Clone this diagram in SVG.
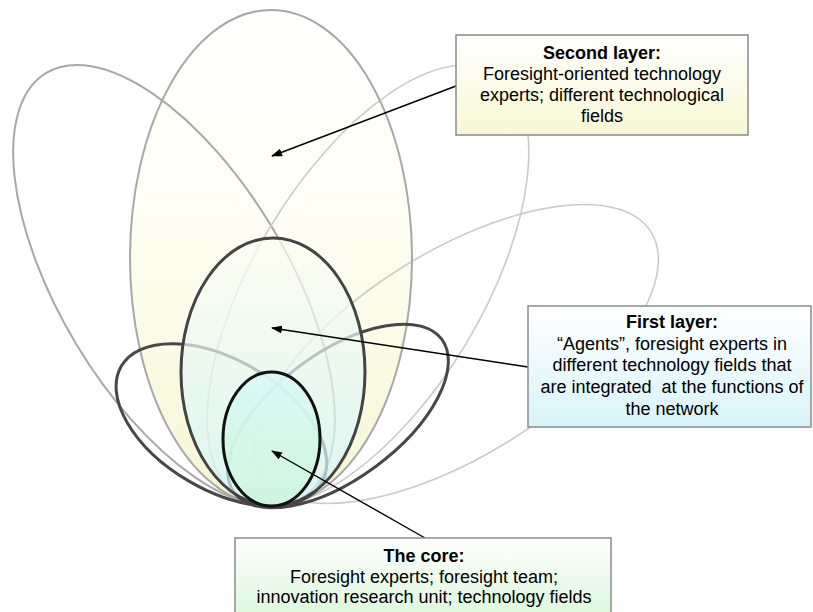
<svg xmlns="http://www.w3.org/2000/svg" width="813" height="612" viewBox="0 0 813 612">
  <defs>
    <linearGradient id="gSecond" x1="0" y1="0" x2="0" y2="1">
      <stop offset="0" stop-color="#ffffff"/>
      <stop offset="0.4" stop-color="#fefef4"/>
      <stop offset="1" stop-color="#f6f6d4"/>
    </linearGradient>
    <linearGradient id="gFirst" x1="0" y1="0" x2="0" y2="1">
      <stop offset="0" stop-color="#fdfdf0"/>
      <stop offset="0.5" stop-color="#e6f9f5"/>
      <stop offset="1" stop-color="#d0f5fb"/>
    </linearGradient>
    <linearGradient id="gCore" x1="0" y1="0" x2="0" y2="1">
      <stop offset="0" stop-color="#d8f8f8"/>
      <stop offset="1" stop-color="#cdf6da"/>
    </linearGradient>
    <linearGradient id="bSecond" x1="0" y1="0" x2="0" y2="1">
      <stop offset="0" stop-color="#ffffff"/>
      <stop offset="1" stop-color="#f8f8d4"/>
    </linearGradient>
    <linearGradient id="bFirst" x1="0" y1="0" x2="0" y2="1">
      <stop offset="0" stop-color="#ffffff"/>
      <stop offset="1" stop-color="#d8f4fa"/>
    </linearGradient>
    <linearGradient id="bCore" x1="0" y1="0" x2="0" y2="1">
      <stop offset="0" stop-color="#ffffff"/>
      <stop offset="1" stop-color="#dcf7dc"/>
    </linearGradient>
    <marker id="arrow" markerWidth="11" markerHeight="8" refX="10" refY="4" orient="auto" markerUnits="userSpaceOnUse">
      <path d="M0,0 L11,4 L0,8 z" fill="#000"/>
    </marker>
  </defs>
  <style>
    .outer { fill: none; stroke: #a8a8a8; stroke-width: 2; }
    .faint { fill: none; stroke: #cbcbcb; stroke-width: 1.6; }
    .petal { fill: none; stroke: #484848; stroke-width: 3; }
    .box { stroke: #8a8a8a; stroke-width: 1.5; }
    .lbl { font-family: "Liberation Sans", Arial, sans-serif; font-size: 18px; fill: #000; text-anchor: middle; white-space: pre; }
    .ttl { font-weight: bold; }
    .conn { stroke: #000; stroke-width: 1.4; fill: none; marker-end: url(#arrow); }
  </style>

  <!-- second layer: large upright petal fill -->
  <g id="second-layer">
    <ellipse cx="271" cy="258" rx="141" ry="248" fill="url(#gSecond)"/>
    <!-- large tilted petals -->
    <ellipse class="outer" cx="174" cy="285.5" rx="114" ry="248" transform="rotate(-31 174 285.5)"/>
    <ellipse class="faint" cx="368" cy="285.5" rx="114" ry="248" transform="rotate(31 368 285.5)"/>
    <ellipse class="faint" cx="456" cy="354" rx="102" ry="230" transform="rotate(58 456 354)"/>
    <ellipse class="outer" cx="271" cy="258" rx="141" ry="248"/>
  </g>

  <!-- first layer: upright petal with two tilted petals -->
  <g id="first-layer">
    <ellipse class="petal" cx="221.4" cy="424.8" rx="65" ry="116" transform="rotate(-59.6 221.4 424.8)"/>
    <ellipse class="petal" cx="338" cy="416" rx="63" ry="129" transform="rotate(53.6 338 416)"/>
    <ellipse cx="273" cy="372" rx="92" ry="134" fill="url(#gFirst)" fill-opacity="0.7"/>
    <ellipse cx="273" cy="372" rx="92" ry="134" fill="none" stroke="#444" stroke-width="3"/>
  </g>

  <!-- the core -->
  <g id="core">
    <ellipse cx="271.5" cy="439" rx="48.5" ry="67" fill="url(#gCore)" fill-opacity="0.85" stroke="#111" stroke-width="3"/>
  </g>

  <!-- connectors -->
  <g id="connectors">
    <line class="conn" x1="456" y1="86" x2="272" y2="156"/>
    <line class="conn" x1="528" y1="367" x2="272" y2="328"/>
    <line class="conn" x1="425" y1="538" x2="272" y2="451"/>
  </g>

  <!-- label boxes -->
  <g id="label-second">
    <rect class="box" x="456" y="35" width="292" height="100" fill="url(#bSecond)"/>
    <text class="lbl ttl" x="602" y="59">Second layer:</text>
    <text class="lbl" x="602" y="80">Foresight-oriented technology</text>
    <text class="lbl" x="602" y="101">experts; different technological</text>
    <text class="lbl" x="602" y="122">fields</text>
  </g>

  <g id="label-first">
    <rect class="box" x="528" y="306" width="283" height="121" fill="url(#bFirst)"/>
    <text class="lbl ttl" x="672" y="328">First layer:</text>
    <text class="lbl" x="672" y="350">“Agents”, foresight experts in</text>
    <text class="lbl" x="672" y="371">different technology fields that</text>
    <text class="lbl" x="672" y="393">are integrated  at the functions of</text>
    <text class="lbl" x="672" y="415">the network</text>
  </g>

  <g id="label-core">
    <rect class="box" x="235" y="538" width="376" height="80" fill="url(#bCore)"/>
    <text class="lbl ttl" x="424" y="562">The core:</text>
    <text class="lbl" x="424" y="583">Foresight experts; foresight team;</text>
    <text class="lbl" x="424" y="603">innovation research unit; technology fields</text>
  </g>
</svg>
